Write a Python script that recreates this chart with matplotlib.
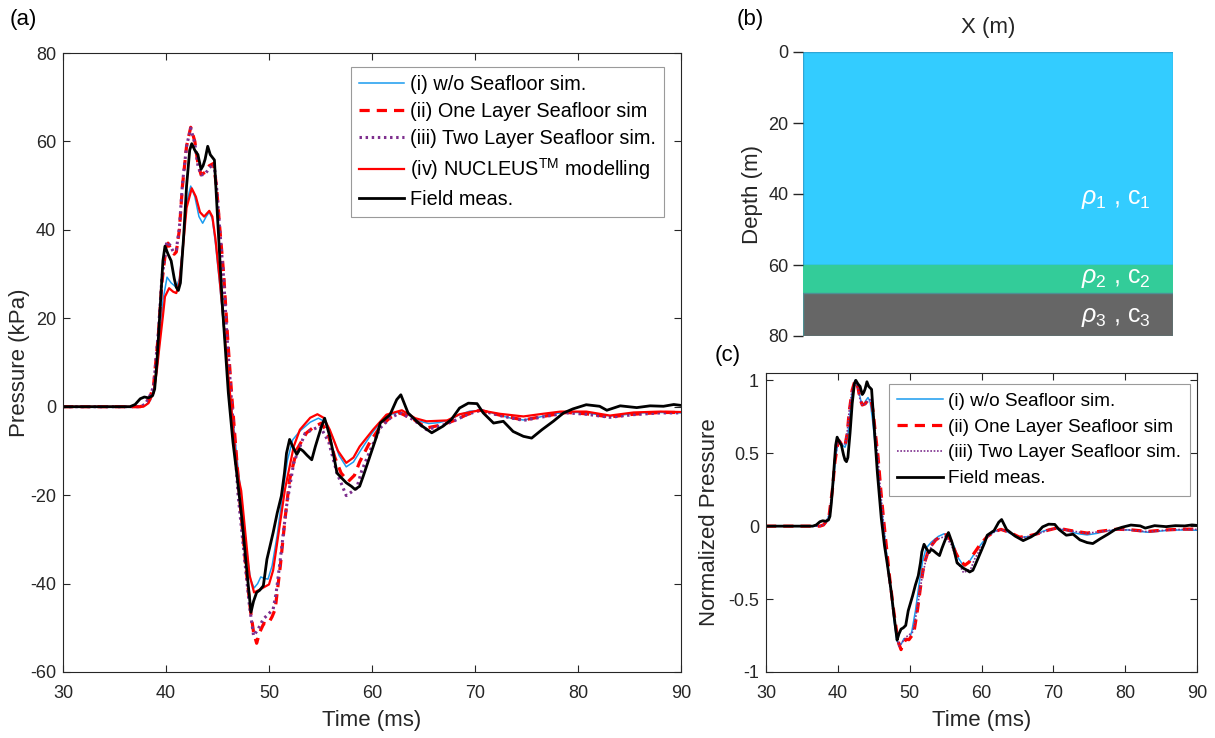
import matplotlib
matplotlib.use("Agg")
import matplotlib.pyplot as plt
from matplotlib.patches import Rectangle
import numpy as np

plt.rcParams['font.family'] = ['Liberation Sans', 'DejaVu Sans']
plt.rcParams['mathtext.fontset'] = 'custom'
plt.rcParams['mathtext.rm'] = 'Liberation Sans'
plt.rcParams['mathtext.it'] = 'Liberation Sans:italic'
plt.rcParams['mathtext.bf'] = 'Liberation Sans:bold'
plt.rcParams['axes.unicode_minus'] = False

# ---------------- data ----------------
# (i) w/o seafloor simulation
t_i = [30, 37.5, 38.0, 38.5, 39.0, 39.4, 39.7, 40.1, 40.5, 41.0, 41.3, 41.6, 42.0, 42.4, 42.8,
       43.2, 43.56, 43.9, 44.2, 44.5, 44.8, 45.2, 45.6, 46.0, 46.5, 47.0, 47.4, 47.8, 48.2,
       48.55, 48.9, 49.2, 49.5, 49.9, 50.3, 50.8, 51.3, 51.8, 52.3, 53.0, 54.0, 54.8, 55.5,
       56.2, 56.8, 57.5, 58.2, 59.0, 60.0, 61.0, 62.0, 62.7, 63.5, 64.5, 65.5, 66.5, 67.5,
       68.5, 69.5, 70.5, 71.5, 72.5, 73.5, 74.7, 76.0, 77.5, 79.0, 80.5, 82.0, 83.2, 84.5,
       86.0, 88.0, 90.0]
p_i = [0, 0, 0.3, 1.5, 6, 15, 24, 29.3, 28, 27, 29, 36, 46, 49.9, 47.5,
       43, 41.5, 43, 44, 42.5, 37, 28, 18, 8, -3, -14, -22, -32, -39,
       -41, -40, -38.5, -38.8, -39, -36, -29, -20, -12, -7.5, -5.5, -3.5, -2.6, -3.5,
       -7, -11, -13.6, -12.5, -9.5, -6, -3, -1.6, -1.2, -1.8, -3.2, -3.8, -3.6, -3.0,
       -1.8, -1.0, -0.9, -1.3, -2.0, -2.6, -3.0, -2.5, -1.6, -1.3, -1.3, -1.8, -2.1, -1.8,
       -1.4, -1.3, -1.4]

# (ii) one layer seafloor simulation
t_ii = [30, 37.5, 38.0, 38.5, 38.8, 39.25, 39.6, 40.0, 40.2, 40.5, 40.8, 41.0, 41.3, 41.6,
        42.0, 42.4, 42.8, 43.1, 43.4, 43.8, 44.2, 44.6, 44.9, 45.2, 45.6, 46.0, 46.4, 46.8,
        47.2, 47.7, 48.2, 48.5, 48.8, 49.1, 49.5, 49.9, 50.3, 50.6, 51.1, 51.55, 52.0, 52.7,
        53.65, 54.4, 55.1, 55.7, 56.4, 57.0, 57.7, 58.3, 58.8, 59.8, 60.8, 61.75, 62.7, 64.0,
        65.3, 66.6, 67.9, 69.2, 70.5, 72.4, 74.7, 76.6, 78.9, 80.8, 83.1, 85.4, 88.0, 90.0]
p_ii = [0, 0, 0.5, 2.5, 5, 16, 28, 36, 37, 35.5, 34.5, 35, 40, 50,
        59, 63.2, 60, 55, 52.5, 53, 54.5, 55, 50, 41, 30, 15, 2, -10,
        -22, -35, -46, -51, -53.5, -51, -49, -49.2, -47.5, -45.8, -36, -25.5, -16.5, -9.7,
        -5.9, -4.5, -3.7, -6, -11.5, -15, -16.9, -15.5, -12.5, -8, -4.5, -2.5, -1.4, -2.8,
        -4.8, -4.2, -3.2, -1.8, -0.8, -1.9, -3.0, -2.2, -1.3, -1.6, -2.3, -1.7, -1.3, -1.3]

# (iii) two layer seafloor simulation
t_iii = [30, 37.5, 38.0, 38.5, 38.8, 39.25, 39.6, 40.07, 40.4, 40.7, 41.0, 41.3, 41.6, 42.0,
         42.4, 42.8, 43.1, 43.4, 43.8, 44.2, 44.66, 44.9, 45.2, 45.6, 45.9, 46.4, 46.8, 47.0,
         47.7, 48.1, 48.5, 48.9, 49.45, 49.9, 50.4, 50.7, 51.1, 51.7, 52.4, 53.5, 54.95, 55.8,
         56.6, 57.5, 58.5, 59.0, 59.8, 60.8, 61.75, 62.7, 64.0, 65.3, 66.6, 67.9, 69.2, 70.5,
         72.4, 74.7, 76.6, 78.9, 80.8, 83.1, 85.4, 88.0, 90.0]
p_iii = [0, 0, 0.6, 2.8, 4.6, 16.7, 29, 37.3, 36.5, 35.1, 35.5, 40.5, 50.5, 59,
         63, 59.5, 54.5, 52.4, 52.6, 54, 55, 50, 40.7, 29, 16.7, 0, -13, -20,
         -36, -45, -51.8, -50.5, -48, -47, -45.8, -42, -34.5, -22.5, -12.7, -6, -4.4, -8,
         -15, -20.1, -18.5, -14.5, -10, -4.8, -2.6, -1.4, -2.9, -5.2, -4.4, -3.3, -1.8, -0.8,
         -2.0, -3.1, -2.3, -1.4, -1.7, -2.4, -1.8, -1.4, -1.4]

# (iv) NUCLEUS modelling
t_iv = [30, 37.8, 38.3, 38.8, 39.1, 39.4, 39.7, 39.9, 40.3, 40.7, 41.0, 41.3, 41.6, 42.0,
        42.5, 42.9, 43.3, 43.7, 44.2, 44.5, 44.8, 45.2, 45.6, 46.0, 46.3, 46.7, 47.0, 47.3,
        47.7, 48.1, 48.55, 49.0, 49.45, 50.0, 50.4, 50.75, 51.55, 52.4, 53.0, 54.0, 54.7,
        55.3, 55.9, 56.7, 57.5, 58.2, 58.8, 60.1, 61.4, 62.9, 64.2, 65.3, 67.3, 68.5, 70.5,
        72.4, 74.7, 76.6, 78.3, 80.8, 83.1, 85.4, 88.0, 90.0]
p_iv = [0, 0, 0.8, 3.2, 8, 14.4, 20.5, 24.9, 26.8, 26, 25.7, 28, 35, 45,
        49.4, 47.5, 44, 43, 44.3, 43, 38, 29, 19, 8, 1, -10, -15.7, -19,
        -28.5, -38, -42, -41.5, -40.9, -40.2, -37, -31.5, -18.7, -9, -5.2, -2.5, -1.7,
        -2.5, -5.2, -10, -12.7, -11.5, -9, -5.2, -1.8, -0.8, -2.6, -3.3, -3.1, -1.7, -0.8,
        -1.6, -2.2, -1.6, -1.1, -1.1, -2.0, -1.3, -1.1, -1.2]

# Field measurement
t_f = [30, 36.5, 37.0, 37.5, 37.9, 38.3, 38.7, 38.9, 39.1, 39.3, 39.5, 39.7, 39.9, 40.2,
       40.5, 40.8, 41.0, 41.2, 41.4, 41.7, 42.0, 42.3, 42.5, 42.8, 43.1, 43.4, 43.6, 43.8,
       44.05, 44.3, 44.7, 45.0, 45.5, 46.05, 46.5, 46.9, 47.4, 47.8, 48.25, 48.5, 48.8,
       49.1, 49.45, 49.8, 50.1, 50.4, 50.8, 51.2, 51.5, 51.7, 52.0, 52.3, 52.7, 53.0, 53.3,
       53.7, 54.15, 54.5, 54.8, 55.1, 55.4, 55.6, 55.9, 56.2, 56.6, 57.0, 57.5, 58.0,
       58.35, 58.8, 59.15, 59.8, 60.45, 60.8, 61.75, 62.4, 62.8, 63.5, 64.7, 65.8, 66.9,
       67.7, 68.5, 69.35, 70.2, 70.8, 71.8, 72.75, 73.7, 74.7, 75.5, 76.5, 77.6, 78.6,
       79.5, 80.8, 82.1, 82.8, 84.1, 85.7, 87.0, 88.3, 89.3, 90.0]
p_f = [0, 0, 0.5, 1.8, 2.2, 2.0, 2.5, 4, 9.5, 17, 25, 33, 36.3, 34.5,
       33, 29, 27, 26.3, 28, 38, 50, 58, 59.5, 58, 57, 53.7, 54.5, 56,
       58.9, 57, 55.8, 43, 22, 3.2, -8, -15.7, -26, -36, -46.5, -44, -42,
       -41.5, -40.5, -34.5, -31.5, -28.5, -24, -20.2, -15, -10.5, -7.4, -9, -10.8, -9.5, -10,
       -11, -12, -9, -6.7, -4.5, -2.6, -4.2, -6.7, -10, -15, -16, -17.2, -18,
       -18.7, -18, -15.7, -11.2, -6.7, -3.7, -1.8, 1.6, 2.7, -1.4, -4.1, -5.9, -4.4,
       -2.9, -0.3, 0.8, 0.7, -1.4, -3.7, -3.3, -5.6, -6.7, -7.1, -5.2, -3.3, -1.4,
       -0.5, 0.45, 0.1, -0.8, 0.2, -0.2, 0.2, 0.1, 0.5, 0.3]

# panel (b) layer boundaries (depth, m)
layer_top = [0, 60, 68]
layer_bottom = [60, 68, 80]
layer_colors = ['#33CCFF', '#33CC99', '#666666']
layer_edges = ['#2FA6D6', '#33CC99', '#4E8F93']
layer_labels = [r'$\rho_{\mathregular{1}}$ , c$_{\mathregular{1}}$',
                r'$\rho_{\mathregular{2}}$ , c$_{\mathregular{2}}$',
                r'$\rho_{\mathregular{3}}$ , c$_{\mathregular{3}}$']
label_depth = [41.5, 63.8, 74.6]

# ---------------- figure ----------------
W, H = 1215, 738
fig = plt.figure(figsize=(W / 100, H / 100), dpi=100)

def px_axes(l, r, t, b):
    return fig.add_axes([l / W, 1 - b / H, (r - l) / W, (b - t) / H])

axA = px_axes(63, 681, 53, 672)
axB = px_axes(803, 1173, 52, 336)
axC = px_axes(766, 1197, 373, 672)

dark = '#262626'
blue = '#1A9BEF'
red = '#FF0000'
purple = '#7E2F8E'
FS = 13
LFS = 16

def style_matlab(ax):
    for s in ax.spines.values():
        s.set_color(dark)
        s.set_linewidth(0.8)
    ax.tick_params(direction='in', length=5, width=0.8, colors=dark, labelsize=FS,
                   top=True, right=True, labelcolor=dark)
    ax.tick_params(axis='x', pad=9)
    ax.tick_params(axis='y', pad=5)

# ---- panel (a)
axA.plot(t_i, p_i, color=blue, lw=1.1, label='(i) w/o Seafloor sim.')
axA.plot(t_ii, p_ii, color=red, lw=2.3, ls=(0, (3.2, 2.2)), label='(ii) One Layer Seafloor sim')
axA.plot(t_iii, p_iii, color=purple, lw=2.2, ls=(0, (0.8, 1.2)), label='(iii) Two Layer Seafloor sim.')
axA.plot(t_iv, p_iv, color=red, lw=1.6, label=r'(iv) NUCLEUS$^{\mathregular{TM}}$ modelling')
axA.plot(t_f, p_f, color='black', lw=2.0, label='Field meas.')
axA.set_xlim(30, 90)
axA.set_ylim(-60, 80)
axA.set_xticks(np.arange(30, 91, 10))
axA.set_yticks(np.arange(-60, 81, 20))
style_matlab(axA)
axA.set_xlabel('Time (ms)', fontsize=LFS, color=dark, labelpad=6)
axA.set_ylabel('Pressure (kPa)', fontsize=LFS, color=dark, labelpad=0)
legA = axA.legend(loc='upper right', bbox_to_anchor=(0.9725, 0.977), fontsize=14.3,
                  frameon=True, fancybox=False, edgecolor='#9a9a9a', framealpha=1,
                  borderaxespad=0, handlelength=2.3, handletextpad=0.3, borderpad=0.4,
                  labelspacing=0.4)
legA.get_frame().set_linewidth(0.8)

# ---- panel (b)
for top, bot, fc, ec, lab, yd in zip(layer_top, layer_bottom, layer_colors, layer_edges,
                                     layer_labels, label_depth):
    axB.add_patch(Rectangle((0, top), 1, bot - top, facecolor=fc, edgecolor=ec, lw=1.0))
    axB.text(0.94, yd, lab, color='white', fontsize=18, ha='right', va='center')
axB.set_xlim(0, 1)
axB.set_ylim(80, 0)
axB.set_yticks([0, 20, 40, 60, 80])
axB.set_xticks([])
for s in axB.spines.values():
    s.set_visible(False)
axB.tick_params(axis='y', direction='out', length=7, width=1.0, colors=dark, labelsize=FS,
                labelcolor=dark)
axB.xaxis.set_label_position('top')
axB.set_xlabel('X (m)', fontsize=LFS, color=dark, labelpad=13.5)
axB.set_ylabel('Depth (m)', fontsize=LFS, color=dark, labelpad=4)

# ---- panel (c)
n_i = np.array(p_i) / max(p_i)
n_ii = np.array(p_ii) / max(p_ii)
n_iii = np.array(p_iii) / max(p_iii)
n_f = np.array(p_f) / max(p_f)
axC.plot(t_i, n_i, color=blue, lw=1.1, label='(i) w/o Seafloor sim.')
axC.plot(t_ii, n_ii, color=red, lw=2.3, ls=(0, (3.2, 2.2)), label='(ii) One Layer Seafloor sim')
axC.plot(t_iii, n_iii, color=purple, lw=1.2, ls=(0, (1, 1)), label='(iii) Two Layer Seafloor sim.')
axC.plot(t_f, n_f, color='black', lw=2.0, label='Field meas.')
axC.set_xlim(30, 90)
axC.set_ylim(-1, 1.05)
axC.set_xticks(np.arange(30, 91, 10))
axC.set_yticks([-1, -0.5, 0, 0.5, 1])
axC.set_yticklabels(['-1', '-0.5', '0', '0.5', '1'])
style_matlab(axC)
axC.set_xlabel('Time (ms)', fontsize=LFS, color=dark, labelpad=6)
axC.set_ylabel('Normalized Pressure', fontsize=LFS, color=dark, labelpad=6)
legC = axC.legend(loc='upper right', bbox_to_anchor=(0.9838, 0.964), fontsize=13.7,
                  frameon=True, fancybox=False, edgecolor='#9a9a9a', framealpha=1,
                  borderaxespad=0, handlelength=2.4, handletextpad=0.3, borderpad=0.45,
                  labelspacing=0.45)
legC.get_frame().set_linewidth(0.8)

# panel letters
fig.text(10 / W, 1 - 20 / H, '(a)', fontsize=16, color='black', va='center', ha='left')
fig.text(737 / W, 1 - 20 / H, '(b)', fontsize=16, color='black', va='center', ha='left')
fig.text(715 / W, 1 - 355 / H, '(c)', fontsize=16, color='black', va='center', ha='left')

fig.savefig('out.png', dpi=100)
